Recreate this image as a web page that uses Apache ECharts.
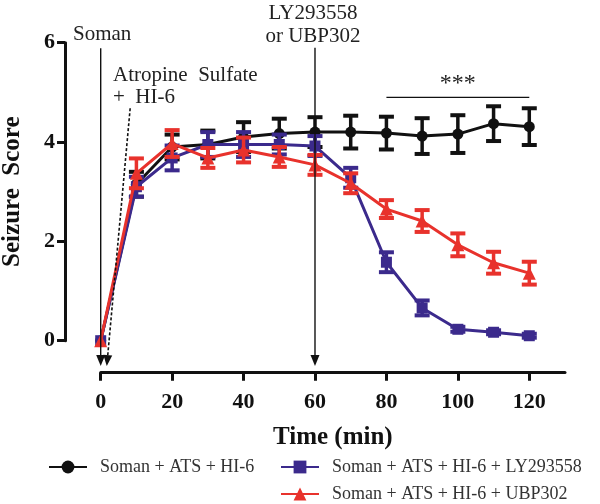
<!DOCTYPE html>
<html>
<head>
<meta charset="utf-8">
<script src="https://cdn.jsdelivr.net/npm/echarts@6/dist/echarts.min.js"></script>
<style>html,body{margin:0;padding:0;background:#fff}#c{width:600px;height:504px}</style>
</head>
<body>
<div id="c"></div>
<script>
var times = [0, 10, 20, 30, 40, 50, 60, 70, 80, 90, 100, 110, 120];
var xTicks = [0, 20, 40, 60, 80, 100, 120];
var nameBlack = 'Soman + ATS + HI-6';
var namePurple = 'Soman + ATS + HI-6 + LY293558';
var nameRed = 'Soman + ATS + HI-6 + UBP302';
var black = [0, 3.15, 3.9, 3.95, 4.1, 4.17, 4.2, 4.2, 4.18, 4.12, 4.16, 4.37, 4.31];
var blackErr = [0, 0.25, 0.25, 0.28, 0.3, 0.3, 0.3, 0.33, 0.33, 0.36, 0.38, 0.35, 0.37];
var purple = [0, 3.1, 3.68, 3.95, 3.95, 3.95, 3.92, 3.28, 1.58, 0.66, 0.23, 0.17, 0.1];
var purpleErr = [0, 0.2, 0.25, 0.25, 0.25, 0.2, 0.2, 0.2, 0.2, 0.15, 0.05, 0.04, 0.04];
var red = [0, 3.37, 3.97, 3.68, 3.84, 3.7, 3.54, 3.17, 2.65, 2.41, 1.93, 1.57, 1.36];
var redErr = [0, 0.3, 0.27, 0.2, 0.25, 0.2, 0.2, 0.2, 0.18, 0.22, 0.23, 0.22, 0.23];
// annotation arrows (data coordinates): start x, start y, end x, end y, dashed
var arrowX0 = [0, 8.25, 60];
var arrowY0 = [5.89, 4.68, 5.9];
var arrowX1 = [0, 1.7, 60];
var arrowY1 = [-0.51, -0.51, -0.51];
var arrowDashed = [0, 1, 0];
// significance bracket
var bracketX = [80, 120];
var bracketY = 4.9;
var sigText = '***';

var SERIF = '"Liberation Serif","Times New Roman",serif';
var cBlack = '#111111', cPurple = '#3b2a8c', cRed = '#e8322c';

function errSeries(vals, errs, color, z) {
  return {
    type: 'custom', silent: true, z: z,
    data: times.map(function (t, i) { return [t, vals[i], errs[i]]; }),
    renderItem: function (params, api) {
      var x = api.value(0), y = api.value(1), e = api.value(2);
      if (e <= 0) return null;
      var top = api.coord([x, y + e]), bot = api.coord([x, y - e]);
      var hw = 7.5;
      return {
        type: 'group', children: [
          {type: 'line', shape: {x1: top[0], y1: top[1], x2: bot[0], y2: bot[1]}, style: {stroke: color, lineWidth: 3.5}},
          {type: 'line', shape: {x1: top[0] - hw, y1: top[1], x2: top[0] + hw, y2: top[1]}, style: {stroke: color, lineWidth: 4}},
          {type: 'line', shape: {x1: bot[0] - hw, y1: bot[1], x2: bot[0] + hw, y2: bot[1]}, style: {stroke: color, lineWidth: 4}}
        ]
      };
    }
  };
}

function lineSeries(name, vals, color, symbol, size, z) {
  return {
    name: name, type: 'line', z: z,
    data: times.map(function (t, i) { return [t, vals[i]]; }),
    symbol: symbol, symbolSize: size, showSymbol: true,
    lineStyle: {color: color, width: 3},
    itemStyle: {color: color},
    emphasis: {disabled: true}
  };
}

var annot = {
  type: 'custom', silent: true, z: 20,
  data: arrowX0.map(function (v, i) { return [arrowX0[i], arrowY0[i], arrowX1[i], arrowY1[i], arrowDashed[i]]; }),
  renderItem: function (params, api) {
    var p0 = api.coord([api.value(0), api.value(1)]);
    var p1 = api.coord([api.value(2), api.value(3)]);
    var dashed = api.value(4) === 1;
    var dx = p1[0] - p0[0], dy = p1[1] - p0[1];
    var len = Math.sqrt(dx * dx + dy * dy); dx /= len; dy /= len;
    var hl = 11, hw = 4.5;
    var bx = p1[0] - dx * hl, by = p1[1] - dy * hl;
    var children = [
      {type: 'line', shape: {x1: p0[0], y1: p0[1], x2: bx, y2: by},
        style: {stroke: '#111', lineWidth: dashed ? 1.6 : 1.4, lineDash: dashed ? [3, 2] : null}},
      {type: 'polygon', shape: {points: [[p1[0], p1[1]], [bx - dy * hw, by + dx * hw], [bx + dy * hw, by - dx * hw]]},
        style: {fill: '#111'}}
    ];
    if (params.dataIndex === 0) {
      var b0 = api.coord([bracketX[0], bracketY]), b1 = api.coord([bracketX[1], bracketY]);
      children.push({type: 'line', shape: {x1: b0[0], y1: b0[1], x2: b1[0], y2: b1[1]}, style: {stroke: '#111', lineWidth: 1.4}});
      children.push({type: 'text', x: (b0[0] + b1[0]) / 2, y: b0[1] - 14,
        style: {text: sigText, fill: '#222', font: '24px ' + SERIF, align: 'center', verticalAlign: 'middle'}});
    }
    return {type: 'group', children: children};
  }
};

var legendCommon = {
  orient: 'horizontal', itemWidth: 38, itemHeight: 16, itemGap: 10,
  textStyle: {fontFamily: SERIF, fontSize: 18, color: '#333', padding: [0, 0, 0, 8]},
  selectedMode: false
};

var chart = echarts.init(document.getElementById('c'), null, {renderer: 'canvas'});
chart.setOption({
  animation: false,
  backgroundColor: '#fff',
  grid: {left: 100.7, right: 35, top: 42.7, bottom: 163.3, containLabel: false, outerBoundsMode: 'none'},
  xAxis: {
    type: 'value', min: 0, max: 130, offset: 32,
    name: 'Time (min)', nameLocation: 'middle', nameGap: 52,
    nameTextStyle: {fontFamily: SERIF, fontSize: 25, fontWeight: 'bold', color: '#111'},
    axisLine: {show: true, onZero: false, lineStyle: {color: '#111', width: 3}},
    axisTick: {show: true, length: 8, lineStyle: {color: '#111', width: 3}, customValues: xTicks},
    axisLabel: {customValues: xTicks, margin: 19, fontFamily: SERIF, fontSize: 22, fontWeight: 'bold', color: '#111'},
    splitLine: {show: false}
  },
  yAxis: {
    type: 'value', min: 0, max: 6, interval: 2, offset: 35.7,
    name: 'Seizure  Score', nameLocation: 'middle', nameGap: 40, nameRotate: 90,
    nameTextStyle: {fontFamily: SERIF, fontSize: 25, fontWeight: 'bold', color: '#111'},
    axisLine: {show: true, onZero: false, lineStyle: {color: '#111', width: 3}},
    axisTick: {show: true, length: 8, lineStyle: {color: '#111', width: 3}},
    axisLabel: {margin: 10, fontFamily: SERIF, fontSize: 22, fontWeight: 'bold', color: '#111'},
    splitLine: {show: false}
  },
  legend: [
    Object.assign({}, legendCommon, {left: 43, top: 453, data: [nameBlack]}),
    Object.assign({}, legendCommon, {left: 275, top: 453, data: [namePurple]}),
    Object.assign({}, legendCommon, {left: 275, top: 480, data: [nameRed]})
  ],
  graphic: [
    {type: 'text', left: 73, top: 24, style: {text: 'Soman', font: '21px ' + SERIF, fill: '#222'}},
    {type: 'text', left: 113, top: 65, style: {text: 'Atropine  Sulfate', font: '21px ' + SERIF, fill: '#222'}},
    {type: 'text', left: 113, top: 87, style: {text: '+  HI-6', font: '21px ' + SERIF, fill: '#222'}},
    {type: 'text', x: 313, y: 3, style: {text: 'LY293558', font: '21px ' + SERIF, fill: '#222', align: 'center'}},
    {type: 'text', x: 313, y: 26, style: {text: 'or UBP302', font: '21px ' + SERIF, fill: '#222', align: 'center'}}
  ],
  series: [
    annot,
    errSeries(black, blackErr, cBlack, 3),
    lineSeries(nameBlack, black, cBlack, 'circle', 11, 4),
    errSeries(purple, purpleErr, cPurple, 5),
    lineSeries(namePurple, purple, cPurple, 'rect', 11, 6),
    errSeries(red, redErr, cRed, 7),
    lineSeries(nameRed, red, cRed, 'triangle', 13, 8)
  ]
});
</script>
</body>
</html>
